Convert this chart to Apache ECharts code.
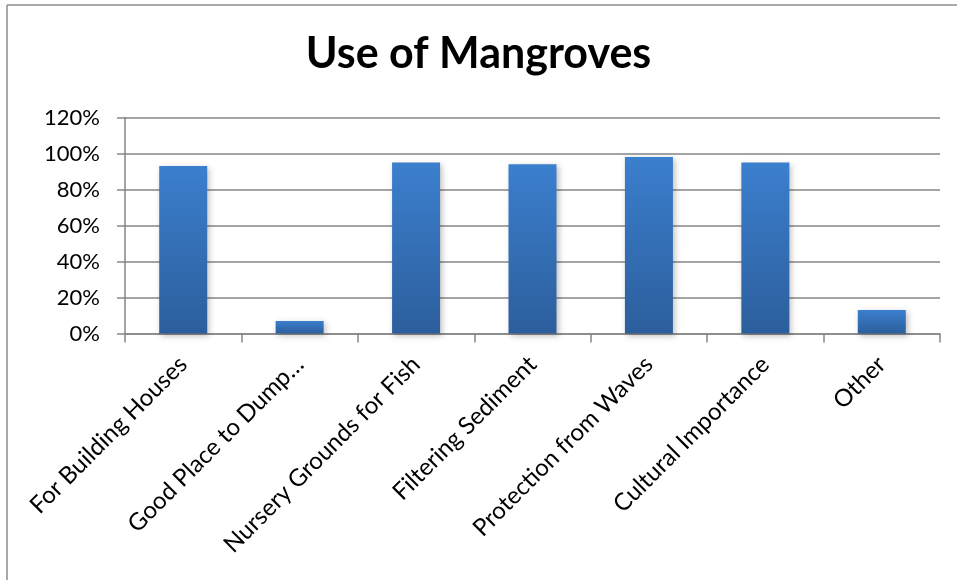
<!DOCTYPE html>
<html>
<head>
<meta charset="utf-8">
<script src="https://cdn.jsdelivr.net/npm/echarts@6/dist/echarts.min.js"></script>
<style>
  html, body { margin: 0; padding: 0; background: #fff; }
  #chart { width: 957px; height: 580px; }
</style>
</head>
<body>
<div id="chart"></div>
<script>
const categories = [
  'For Building Houses',
  'Good Place to Dump…',
  'Nursery Grounds for Fish',
  'Filtering Sediment',
  'Protection from Waves',
  'Cultural Importance',
  'Other'
]
const values = [0.93, 0.07, 0.95, 0.94, 0.98, 0.95, 0.13]
const yTicks = { min: 0, max: 1.2, interval: 0.2 }

const font = 'Lato, Carlito, Calibri, sans-serif'
const axisGray = '#868686'

const chart = echarts.init(document.getElementById('chart'))
chart.setOption({
  animation: false,
  title: {
    text: 'Use of Mangroves',
    left: 'center',
    top: 28,
    textStyle: { fontFamily: font, fontSize: 43, fontWeight: 'bold', color: '#000' }
  },
  graphic: [
    { type: 'line', shape: { x1: 7, y1: 5, x2: 957, y2: 5 }, style: { stroke: '#8c8c8c', lineWidth: 1.5 } },
    { type: 'line', shape: { x1: 7, y1: 5, x2: 7, y2: 580 }, style: { stroke: '#8c8c8c', lineWidth: 1.5 } }
  ],
  grid: { left: 125, right: 17, top: 117.5, bottom: 246.5, containLabel: false },
  xAxis: {
    type: 'category',
    data: categories,
    axisLine: { lineStyle: { color: axisGray, width: 1.5 } },
    axisTick: { show: true, length: 9, lineStyle: { color: axisGray, width: 1.5 } },
    axisLabel: {
      rotate: 45,
      interval: 0,
      margin: 27,
      fontFamily: font,
      fontSize: 24,
      color: '#000'
    }
  },
  yAxis: {
    type: 'value',
    min: yTicks.min,
    max: yTicks.max,
    interval: yTicks.interval,
    axisLine: { show: true, lineStyle: { color: axisGray, width: 1.5 } },
    axisTick: { show: true, length: 8, lineStyle: { color: axisGray, width: 1.5 } },
    splitLine: { lineStyle: { color: axisGray, width: 1.5 } },
    axisLabel: {
      margin: 25,
      fontFamily: font,
      fontSize: 22,
      color: '#000',
      formatter: v => Math.round(v * 100) + '%'
    }
  },
  series: [{
    type: 'bar',
    data: values,
    barWidth: 48,
    itemStyle: {
      color: new echarts.graphic.LinearGradient(0, 0, 0, 1, [
        { offset: 0, color: '#3b7fce' },
        { offset: 1, color: '#2c5e9c' }
      ]),
      shadowColor: 'rgba(0,0,0,0.25)',
      shadowBlur: 6,
      shadowOffsetX: 2,
      shadowOffsetY: 2
    }
  }]
})
</script>
</body>
</html>
